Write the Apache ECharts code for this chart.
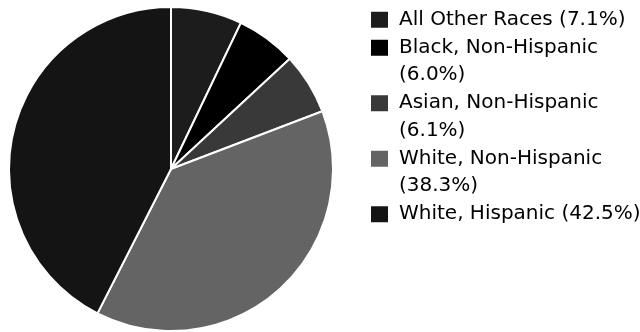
<!DOCTYPE html>
<html>
<head>
<meta charset="utf-8">
<script src="https://cdn.jsdelivr.net/npm/echarts@6/dist/echarts.min.js"></script>
<style>
  html, body { margin: 0; padding: 0; background: #fff; }
  #chart { width: 640px; height: 332px; }
</style>
</head>
<body>
<div id="chart"></div>
<script>
// Population share by race / ethnicity (percent)
const categories = [
  'All Other Races',
  'Black, Non-Hispanic',
  'Asian, Non-Hispanic',
  'White, Non-Hispanic',
  'White, Hispanic'
];
const shares = [7.1, 6.0, 6.1, 38.3, 42.5];
const sliceColors = ['#1c1c1c', '#000000', '#393939', '#646464', '#141414'];

const FONT = '"DejaVu Sans", sans-serif';
const LINE = 27.5;

// Rich-text styles: a coloured square per entry, plus spacers for indentation
const rich = {
  t: { fontFamily: FONT, fontSize: 20, color: '#000', lineHeight: LINE, verticalAlign: 'middle' },
  gap: { width: 11, height: 16, lineHeight: LINE },
  indent: { width: 28, height: 16, lineHeight: LINE }
};
sliceColors.forEach(function (c, i) {
  rich['sq' + i] = { width: 17, height: 16, lineHeight: LINE, backgroundColor: c, verticalAlign: 'middle' };
});

function legendText(name) {
  const i = categories.indexOf(name);
  const pct = '(' + shares[i].toFixed(1) + '%)';
  const full = name + ' ' + pct;
  const head = '{sq' + i + '|}{gap|}';
  if (full.length > 24) {
    return head + '{t|' + name + '}\n{indent|}{t|' + pct + '}';
  }
  return head + '{t|' + full + '}';
}

const chart = echarts.init(document.getElementById('chart'), null, { renderer: 'canvas' });
chart.setOption({
  animation: false,
  backgroundColor: '#ffffff',
  color: sliceColors,
  legend: {
    orient: 'vertical',
    left: 366,
    top: 6,
    padding: 0,
    itemGap: 0.5,
    itemWidth: 0,
    itemHeight: 0,
    icon: 'none',
    textStyle: {
      fontFamily: FONT, fontSize: 20, color: '#000',
      lineHeight: LINE, rich: rich
    },
    data: categories,
    formatter: legendText,
    selectedMode: false
  },
  series: [{
    type: 'pie',
    center: [171, 169],
    radius: 162,
    startAngle: 90,
    clockwise: true,
    label: { show: false },
    labelLine: { show: false },
    emphasis: { scale: false },
    itemStyle: { borderColor: '#ffffff', borderWidth: 2 },
    data: categories.map(function (name, i) {
      return { name: name, value: shares[i] };
    })
  }]
});
</script>
</body>
</html>
